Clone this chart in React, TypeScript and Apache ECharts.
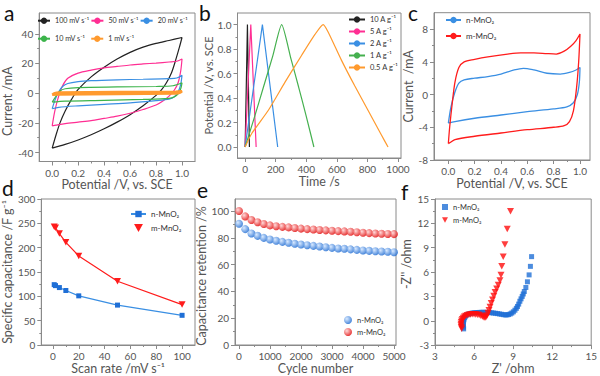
import React, { useEffect, useRef } from 'react';
import * as echarts from 'echarts';

// ---------- panel a: CV at different scan rates (forward / reverse branches) ----------
const cv100Fwd = [[0,-37],[0.03,-28],[0.06,-20],[0.1,-12],[0.15,-4],[0.2,2.5],[0.3,11],[0.4,17.5],[0.5,23],[0.6,27.5],[0.7,31],[0.8,33.5],[0.9,35.5],[1.0,37.5]];
const cv100Rev = [[0.98,31],[0.95,22],[0.92,14],[0.88,7],[0.84,2],[0.8,-1.5],[0.7,-8.5],[0.6,-14.5],[0.5,-19.5],[0.4,-24],[0.3,-28],[0.2,-31.5],[0.1,-34.5],[0,-37]];
const cv50Fwd = [[0,-22],[0.02,-12],[0.05,-2],[0.08,5],[0.12,10],[0.2,13.5],[0.3,15.5],[0.4,17],[0.5,18],[0.6,19],[0.7,19.7],[0.8,20.3],[0.9,21],[0.96,21.5],[1.0,23]];
const cv50Rev = [[0.99,15],[0.97,7],[0.94,2],[0.9,-2],[0.85,-5.5],[0.8,-8],[0.7,-11],[0.6,-13.5],[0.5,-15.5],[0.4,-17],[0.3,-18.5],[0.2,-19.5],[0.1,-20.5],[0.03,-21.5],[0,-22]];
const cv20Fwd = [[0,-10.5],[0.02,-5],[0.05,1],[0.08,4.5],[0.12,6.5],[0.2,7.8],[0.3,8.4],[0.5,9],[0.7,9.4],[0.9,9.8],[0.96,10.2],[1.0,12]];
const cv20Rev = [[0.99,6],[0.97,1],[0.94,-2.5],[0.9,-4],[0.8,-5],[0.6,-6.5],[0.4,-7.5],[0.2,-8.5],[0.05,-9.5],[0,-10.5]];
const cv10Fwd = [[0,-6],[0.03,-2],[0.06,1.5],[0.1,3],[0.2,3.8],[0.5,4.2],[0.8,4.5],[0.93,5],[1.0,7]];
const cv10Rev = [[0.99,3],[0.97,-0.5],[0.94,-2.5],[0.9,-3.5],[0.7,-4.2],[0.4,-4.8],[0.1,-5.3],[0,-6]];
const cv1Fwd = [[0,-1],[0.02,0],[0.05,0.4],[0.5,0.8],[0.95,1],[1.0,1.3]];
const cv1Rev = [[0.98,0.2],[0.95,-0.2],[0.5,-0.5],[0.05,-0.8],[0,-1]];

// ---------- panel b: galvanostatic charge/discharge ----------
const gcd10 = [[0,0],[15,1],[28,0]];
const gcd5 = [[0,0],[37,1],[72,0]];
const gcd2 = [[0,0],[113,1],[213,0]];
const gcd1 = [[0,0],[60,0.24],[120,0.49],[180,0.74],[239,1],[300,0.72],[350,0.49],[400,0.25],[450,0]];
const gcd05 = [[0,0],[43,0.11],[152,0.3],[261,0.53],[370,0.75],[457,0.92],[511,1],[543,0.94],[630,0.71],[717,0.5],[804,0.3],[891,0.1],[935,0]];

// ---------- panel c: CV comparison ----------
const cvNFwd = [[0,-3.5],[0.02,-1.5],[0.05,0.3],[0.08,1.4],[0.12,1.8],[0.2,2.0],[0.3,2.2],[0.4,2.5],[0.5,3.0],[0.57,3.2],[0.65,3.0],[0.75,2.6],[0.85,2.5],[0.92,2.7],[0.97,3.0],[1.0,3.3]];
const cvNRev = [[0.995,1.5],[0.98,0],[0.95,-1.0],[0.9,-1.5],[0.8,-1.75],[0.6,-2.1],[0.4,-2.5],[0.2,-2.9],[0.05,-3.3],[0,-3.5]];
const cvMFwd = [[0,-6],[0.01,-4],[0.03,-1],[0.05,1.5],[0.08,3.3],[0.12,4.0],[0.2,4.3],[0.3,4.6],[0.45,4.95],[0.55,5.1],[0.65,5.1],[0.75,5.0],[0.82,4.95],[0.88,5.3],[0.93,5.9],[0.97,6.6],[1.0,7.4]];
const cvMRev = [[0.99,4],[0.975,1],[0.95,-2],[0.92,-3.3],[0.88,-3.8],[0.8,-4.0],[0.6,-4.3],[0.4,-4.7],[0.2,-5.1],[0.05,-5.5],[0.01,-5.9],[0,-6]];

// ---------- panel d: rate capability ----------
const scanRates = [1, 2, 5, 10, 20, 50, 100];
const capN = [124, 122, 118, 112, 101, 82, 61];
const capM = [243, 241, 229, 211, 183, 131, 83];

// ---------- panel e: cycling ----------
const cycles = [0,200,400,600,800,1000,1200,1400,1600,1800,2000,2200,2400,2600,2800,3000,3200,3400,3600,3800,4000,4200,4400,4600,4800,5000];
const retN = [90.5,86.5,83.3,81.5,80,78.8,77.8,77,76.3,75.6,75,74.5,74,73.5,73,72.5,72.1,71.8,71.4,71,70.6,70.3,70,69.8,69.6,69.3];
const retM = [100,96,93.3,91.7,90.3,89.3,88.7,88.2,87.8,87.3,86.9,86.5,86.2,85.9,85.6,85.3,85,84.8,84.5,84.2,83.8,83.5,83.2,83,82.9,82.8];

// ---------- panel f: Nyquist ----------
const nyqN = [[5.2,-1.0],[5.18,-0.8],[5.17,-0.6],[5.17,-0.4],[5.18,-0.2],[5.2,0],[5.23,0.2],[5.28,0.4],[5.35,0.58],[5.45,0.72],[5.57,0.82],[5.7,0.9],[5.85,0.95],[6.0,0.98],[6.15,1.0],[6.3,1.02],[6.45,1.03],[6.6,1.04],[6.75,1.04],[6.9,1.03],[7.05,1.02],[7.2,1.0],[7.35,0.98],[7.5,0.95],[7.65,0.92],[7.8,0.88],[7.95,0.84],[8.1,0.8],[8.25,0.75],[8.4,0.72],[8.52,0.72],[8.65,0.76],[8.78,0.84],[8.9,0.95],[9.02,1.1],[9.14,1.3],[9.25,1.53],[9.34,1.76],[9.43,2.05],[9.52,2.4],[9.61,2.7],[9.7,3.0],[9.78,3.3],[9.86,3.6],[9.98,4.1],[10.1,4.8],[10.23,5.65],[10.33,6.7],[10.42,7.9]];
const nyqM = [[5.05,-1.0],[5.02,-0.8],[5.0,-0.6],[5.0,-0.4],[5.02,-0.2],[5.05,0.0],[5.1,0.18],[5.17,0.34],[5.26,0.48],[5.36,0.6],[5.48,0.68],[5.6,0.74],[5.73,0.78],[5.86,0.8],[6.0,0.8],[6.13,0.78],[6.26,0.75],[6.39,0.7],[6.52,0.62],[6.64,0.52],[6.75,0.42],[6.84,0.38],[6.92,0.45],[7.0,0.65],[7.07,0.95],[7.15,1.3],[7.23,1.7],[7.32,2.15],[7.42,2.6],[7.52,3.05],[7.62,3.5],[7.74,3.95],[7.86,4.4],[7.99,4.95],[8.07,5.65],[8.13,6.7],[8.24,7.9],[8.37,9.4],[8.55,11.3],[8.8,13.5]];

// ---------- tick values ----------
const ticksCvX = [0, 0.2, 0.4, 0.6, 0.8, 1.0];
const minorCvX = [0.1, 0.3, 0.5, 0.7, 0.9];
const ticksAY = [-40, -20, 0, 20, 40];
const minorAY = [-30, -10, 10, 30];
const ticksBX = [0, 200, 400, 600, 800, 1000];
const minorBX = [100, 300, 500, 700, 900];
const ticksBY = [0, 0.2, 0.4, 0.6, 0.8, 1.0];
const minorBY = [0.1, 0.3, 0.5, 0.7, 0.9];
const ticksCY = [-8, -4, 0, 4, 8];
const minorCY = [-6, -2, 2, 6];
const ticksDX = [0, 20, 40, 60, 80, 100];
const minorDX = [10, 30, 50, 70, 90];
const ticksDY = [0, 50, 100, 150, 200, 250, 300];
const minorDY = [25, 75, 125, 175, 225, 275];
const ticksEX = [0, 1000, 2000, 3000, 4000, 5000];
const minorEX = [500, 1500, 2500, 3500, 4500];
const ticksEY = [0, 20, 40, 60, 80, 100];
const minorEY = [10, 30, 50, 70, 90];
const ticksFX = [3, 6, 9, 12, 15];
const minorFX = [4.5, 7.5, 10.5, 13.5];
const ticksFY = [-3, 0, 3, 6, 9, 12, 15];
const minorFY = [-1.5, 1.5, 4.5, 7.5, 10.5, 13.5];

const LEG: Record<string, string> = {
  a100: '100 mV s⁻¹', a50: '50 mV s⁻¹', a20: '20 mV s⁻¹', a10: '10 mV s⁻¹', a1: '1 mV s⁻¹',
  b10: '10 A g⁻¹', b5: '5 A g⁻¹', b2: '2 A g⁻¹', b1: '1 A g⁻¹', b05: '0.5 A g⁻¹',
  cn: 'n-MnO₂', cm: 'm-MnO₂', dn: 'n-MnO₂', dm: 'm-MnO₂', en: 'n-MnO₂', em: 'm-MnO₂', fn: 'n-MnO₂', fm: 'm-MnO₂',
};

const FONT = 'Lato, "Open Sans", sans-serif';
const AX = '#8a8a8a';
const LBL = '#555';
const TTL = '#555';
const DOWN_TRI = 'path://M0,0 L10,0 L5,9 Z';

const C_BLACK = '#222222';
const C_PINK = '#ff2e93';
const C_BLUE = '#3a8fe3';
const C_GREEN = '#3cb44b';
const C_ORANGE = '#ff9a2e';
const C_RED = '#ff1c1c';
const C_NBLUE = '#1f6fd6';

type Panel = {
  left: number; top: number; width: number; height: number;
  xMin: number; xMax: number; xMajor: number[]; xMinor: number[]; xDec: number;
  yMin: number; yMax: number; yMajor: number[]; yMinor: number[]; yDec: number;
  xName: string; yName: string; xGap: number; yGap: number; yPad?: number[]; yFont?: number;
};

const panels: Panel[] = [
  { left: 37, top: 13, width: 158, height: 148.5, xMin: -0.1, xMax: 1.1, xMajor: ticksCvX, xMinor: minorCvX, xDec: 1,
    yMin: -46, yMax: 54, yMajor: ticksAY, yMinor: minorAY, yDec: 0, xName: 'Potential /V, vs. SCE', yName: 'Current /mA', xGap: 14, yGap: 21, yPad: [0, 28, 0, 0] },
  { left: 237.5, top: 13, width: 163.5, height: 145, xMin: -50, xMax: 1020, xMajor: ticksBX, xMinor: minorBX, xDec: 0,
    yMin: -0.09, yMax: 1.095, yMajor: ticksBY, yMinor: minorBY, yDec: 1, xName: 'Time /s', yName: 'Potential /V, vs. SCE', xGap: 16, yGap: 24, yFont: 11 },
  { left: 434, top: 12.7, width: 156, height: 147.3, xMin: -0.109, xMax: 1.076, xMajor: ticksCvX, xMinor: minorCvX, xDec: 1,
    yMin: -8, yMax: 10, yMajor: ticksCY, yMinor: minorCY, yDec: 0, xName: 'Potential /V, vs. SCE', yName: 'Current  /mA', xGap: 15, yGap: 18 },
  { left: 39, top: 199, width: 156, height: 146, xMin: -9, xMax: 110, xMajor: ticksDX, xMinor: minorDX, xDec: 0,
    yMin: 0, yMax: 300, yMajor: ticksDY, yMinor: minorDY, yDec: 0, xName: 'Scan rate /mV s⁻¹', yName: 'Specific capacitance /F g⁻¹', xGap: 17, yGap: 23 },
  { left: 235, top: 199, width: 161, height: 146, xMin: -130, xMax: 5065, xMajor: ticksEX, xMinor: minorEX, xDec: 0,
    yMin: 0, yMax: 109, yMajor: ticksEY, yMinor: minorEY, yDec: 0, xName: 'Cycle number', yName: 'Capacitance retention /%', xGap: 16, yGap: 21, yPad: [0, 8, 0, 0] },
  { left: 435, top: 199, width: 158, height: 146.5, xMin: 3, xMax: 15, xMajor: ticksFX, xMinor: minorFX, xDec: 0,
    yMin: -3, yMax: 15, yMajor: ticksFY, yMinor: minorFY, yDec: 0, xName: "Z' /ohm", yName: "-Z'' /ohm", xGap: 16, yGap: 16, yPad: [0, 0, 0, 16] },
];

function buildAxes() {
  const xAxis: any[] = [];
  const yAxis: any[] = [];
  panels.forEach((p, i) => {
    const base = { type: 'value', gridIndex: i, splitLine: { show: false } };
    xAxis.push({
      ...base, min: p.xMin, max: p.xMax, position: 'bottom',
      axisLine: { show: true, onZero: false, lineStyle: { color: AX, width: 1 } },
      axisTick: { show: true, inside: false, length: 4, customValues: p.xMajor, lineStyle: { color: AX } },
      axisLabel: { show: true, customValues: p.xMajor, formatter: (v: number) => v.toFixed(p.xDec), fontSize: 10, color: LBL, fontFamily: FONT, margin: 6 },
      name: p.xName, nameLocation: 'middle', nameGap: p.xGap,
      nameTextStyle: { fontSize: 12.5, color: TTL, fontFamily: FONT },
    });
    xAxis.push({
      ...base, min: p.xMin, max: p.xMax, position: 'bottom',
      axisLine: { show: false, onZero: false },
      axisTick: { show: true, inside: false, length: 2, customValues: p.xMinor, lineStyle: { color: AX } },
      axisLabel: { show: false },
    });
    yAxis.push({
      ...base, min: p.yMin, max: p.yMax, position: 'left',
      axisLine: { show: true, onZero: false, lineStyle: { color: AX, width: 1 } },
      axisTick: { show: true, inside: false, length: 4, customValues: p.yMajor, lineStyle: { color: AX } },
      axisLabel: { show: true, customValues: p.yMajor, formatter: (v: number) => v.toFixed(p.yDec), fontSize: 10, color: LBL, fontFamily: FONT, margin: 6 },
      name: p.yName, nameLocation: 'middle', nameGap: p.yGap,
      nameTextStyle: { fontSize: p.yFont || 12.5, color: TTL, fontFamily: FONT, padding: p.yPad || 0 },
    });
    yAxis.push({
      ...base, min: p.yMin, max: p.yMax, position: 'left',
      axisLine: { show: false, onZero: false },
      axisTick: { show: true, inside: false, length: 2, customValues: p.yMinor, lineStyle: { color: AX } },
      axisLabel: { show: false },
    });
  });
  return { xAxis, yAxis };
}

const lineS = (name: string, g: number, data: number[][], color: string, width = 1.2, smooth: number | boolean = 0.3) => ({
  type: 'line', name, xAxisIndex: 2 * g, yAxisIndex: 2 * g, data, symbol: 'none', showSymbol: false,
  smooth, lineStyle: { color, width }, itemStyle: { color }, z: 3,
});

const grad = (light: string, dark: string) => ({
  type: 'radial', x: 0.35, y: 0.35, r: 0.7,
  colorStops: [{ offset: 0, color: light }, { offset: 1, color: dark }],
});

const legendBase = {
  padding: 0, selectedMode: false, formatter: (n: string) => LEG[n] || n,
  textStyle: { fontSize: 7.5, color: '#333', fontFamily: FONT, lineHeight: 10 },
};

export default function App() {
  const ref = useRef<HTMLDivElement>(null);
  useEffect(() => {
    if (!ref.current) return;
    const chart = echarts.init(ref.current, undefined, { renderer: 'svg' });
    const { xAxis, yAxis } = buildAxes();
    const series: any[] = [
      lineS('a100', 0, [...cv100Fwd, ...cv100Rev], C_BLACK),
      lineS('a50', 0, [...cv50Fwd, ...cv50Rev], C_PINK),
      lineS('a20', 0, [...cv20Fwd, ...cv20Rev], C_BLUE),
      lineS('a10', 0, [...cv10Fwd, ...cv10Rev], C_GREEN),
      lineS('a1', 0, [...cv1Fwd, ...cv1Rev], C_ORANGE, 2.5),
      lineS('b10', 1, gcd10, C_BLACK, 1.2, false),
      lineS('b5', 1, gcd5, C_PINK, 1.2, false),
      lineS('b2', 1, gcd2, C_BLUE, 1.2, false),
      lineS('b1', 1, gcd1, '#45b04f', 1.2, 0.2),
      lineS('b05', 1, gcd05, C_ORANGE, 1.2, 0.2),
      lineS('cn', 2, [...cvNFwd, ...cvNRev], C_BLUE, 1.3),
      lineS('cm', 2, [...cvMFwd, ...cvMRev], C_RED, 1.3),
      {
        type: 'line', name: 'dn', xAxisIndex: 6, yAxisIndex: 6, data: scanRates.map((r, k) => [r, capN[k]]),
        symbol: 'rect', symbolSize: 5, lineStyle: { color: C_BLUE, width: 1.2 }, itemStyle: { color: C_NBLUE },
      },
      {
        type: 'line', name: 'dm', xAxisIndex: 6, yAxisIndex: 6, data: scanRates.map((r, k) => [r, capM[k]]),
        symbol: DOWN_TRI, symbolSize: [7, 6.5], lineStyle: { color: C_RED, width: 1.2 }, itemStyle: { color: C_RED },
      },
      {
        type: 'scatter', name: 'en', xAxisIndex: 8, yAxisIndex: 8, data: cycles.map((c, k) => [c, retN[k]]),
        symbol: 'circle', symbolSize: 8, itemStyle: { color: grad('#cfe4ff', '#1565d0') },
      },
      {
        type: 'scatter', name: 'em', xAxisIndex: 8, yAxisIndex: 8, data: cycles.map((c, k) => [c, retM[k]]),
        symbol: 'circle', symbolSize: 8, itemStyle: { color: grad('#ffd0d0', '#e00000') },
      },
      {
        type: 'scatter', name: 'fn', xAxisIndex: 10, yAxisIndex: 10, data: nyqN,
        symbol: 'rect', symbolSize: 5, itemStyle: { color: C_NBLUE },
      },
      {
        type: 'scatter', name: 'fm', xAxisIndex: 10, yAxisIndex: 10, data: nyqM,
        symbol: DOWN_TRI, symbolSize: [7, 6.5], itemStyle: { color: '#ff0d0d' },
      },
    ];
    const titleStyle = { fontSize: 21, fontWeight: 'normal', color: '#111', fontFamily: FONT, lineHeight: 22 };
    const option: any = {
      animation: false,
      textStyle: { fontFamily: FONT },
      title: [
        { text: 'a', left: 4, top: 1, padding: 0, textStyle: titleStyle },
        { text: 'b', left: 199, top: 1, padding: 0, textStyle: titleStyle },
        { text: 'c', left: 408, top: 1, padding: 0, textStyle: titleStyle },
        { text: 'd', left: 2, top: 176, padding: 0, textStyle: titleStyle },
        { text: 'e', left: 197, top: 178, padding: 0, textStyle: titleStyle },
        { text: 'f', left: 401, top: 180, padding: 0, textStyle: titleStyle },
      ],
      grid: panels.map((p) => ({
        left: p.left, top: p.top, width: p.width, height: p.height, show: true,
        borderColor: AX, borderWidth: 1, backgroundColor: 'transparent', containLabel: false,
      })),
      xAxis, yAxis, series,
      legend: [
        { ...legendBase, data: ['a100', 'a50', 'a20'], left: 37, top: 15.7, itemWidth: 12, itemHeight: 8, itemGap: 1, textStyle: { ...legendBase.textStyle, fontSize: 7.2 } },
        { ...legendBase, data: ['a10', 'a1'], left: 37, top: 33.7, itemWidth: 12, itemHeight: 8, itemGap: 5, textStyle: { ...legendBase.textStyle, fontSize: 7.2 } },
        { ...legendBase, data: ['b10', 'b5', 'b2', 'b1', 'b05'], left: 348, top: 14.5, orient: 'vertical', itemWidth: 16, itemHeight: 8, itemGap: 2 },
        { ...legendBase, data: ['cn', 'cm'], left: 445, top: 15, orient: 'vertical', itemWidth: 15, itemHeight: 8, itemGap: 6, textStyle: { ...legendBase.textStyle, fontSize: 8 } },
        { ...legendBase, data: ['dn', { name: 'dm', icon: DOWN_TRI }], left: 130, top: 209, orient: 'vertical', itemWidth: 15, itemHeight: 8, itemGap: 4, textStyle: { ...legendBase.textStyle, fontSize: 8 } },
        { ...legendBase, data: ['en', 'em'], left: 344, top: 315, orient: 'vertical', itemWidth: 8, itemHeight: 8, itemGap: 2 },
        { ...legendBase, data: ['fn', { name: 'fm', icon: DOWN_TRI }], left: 442, top: 202, orient: 'vertical', itemWidth: 6, itemHeight: 6, itemGap: 3 },
      ],
    };
    chart.setOption(option);
    return () => chart.dispose();
  }, []);
  return <div ref={ref} style={{ position: 'fixed', left: 0, top: 0, width: 600, height: 376, background: '#fff' }} />;
}
